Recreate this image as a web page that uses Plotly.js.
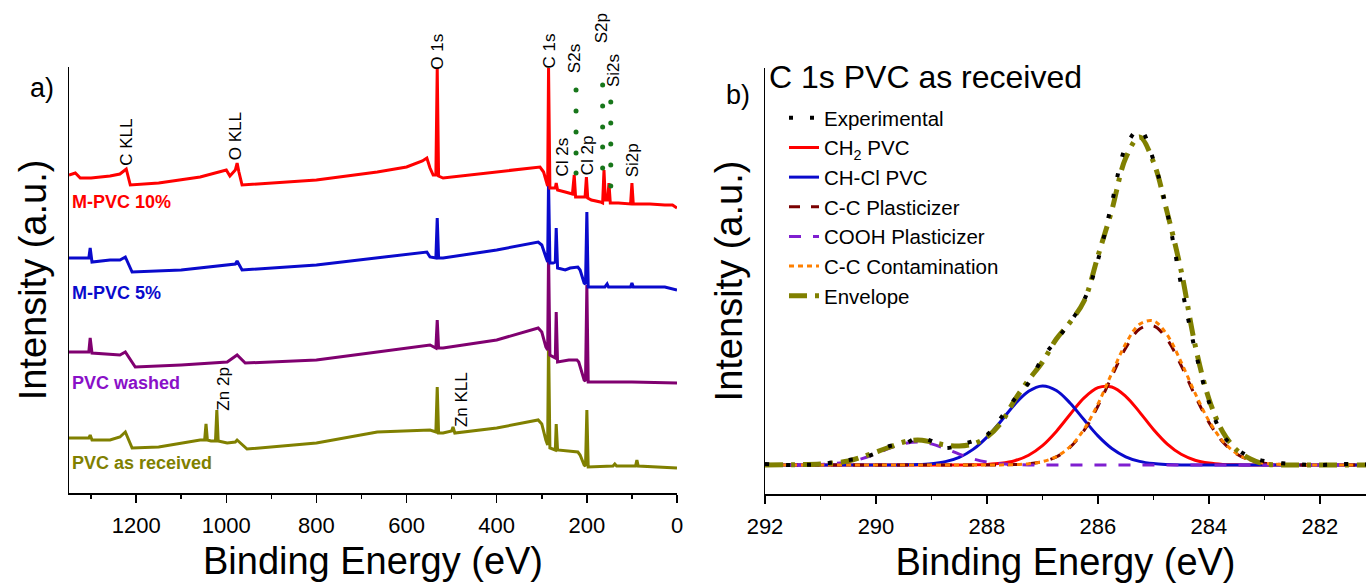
<!DOCTYPE html>
<html><head><meta charset="utf-8">
<script src="https://cdn.plot.ly/plotly-3.0.1.min.js"></script>
<style>html,body{margin:0;padding:0;background:#fff}#chart{width:1366px;height:585px}</style>
</head><body><div id="chart"></div>
<script>
// ---------- (a) survey spectra: binding energy (eV) / intensity (a.u., offset stacked) ----------
const mpvc10E = [1349,1335,1324,1300,1258,1236,1222,1213,1150,1058,1000,992,980,976,972,965,800,665,600,565,555,548,541,535,532,529,519,400,304,296,289,287,285,282,275,270,268,265,248,232,228,225,204,201,198,190,170,165,162,159,154,151,148,130,103,100,97,60,27,10,0];
const mpvc10I = [318,320,315,315,317,319,324,308,310,316,323,317,323,330,321,308,313,321,326,332,335,325,318,318,425,317,315,321,326,321,308,307,425,305,305,305,310,303,301,299,318,296,296,316,295,293,291,290,323,293,293,310,290,290,289,310,289,289,288,288,285];

const mpvc5E = [1349,1313,1305,1302,1298,1258,1236,1224,1209,1100,998,980,976,965,800,665,555,548,535,532,529,519,400,308,300,291,287,285,282,275,270,268,265,248,237,220,215,206,203,200,197,160,155,152,103,100,97,27,0];
const mpvc5I = [235,235,235,245,231,233,233,236,221,223,228,229,232,223,228,235,241,236,235,275,235,235,243,251,248,236,231,312,230,230,231,265,225,223,225,226,223,210,209,281,206,206,209,206,206,210,206,206,203];

const washedE = [1349,1313,1305,1302,1298,1236,1224,1202,1100,998,976,958,800,665,548,535,532,529,519,400,308,300,291,287,285,282,270,268,265,240,222,218,206,203,200,197,100,0];
const washedI = [141,141,141,155,140,138,141,126,128,131,138,130,133,141,148,145,173,145,145,153,165,161,146,143,240,138,135,181,131,133,133,131,113,112,208,111,111,110];

const receivedE = [1349,1313,1305,1302,1298,1258,1236,1224,1209,1150,1058,1048,1045,1042,1034,1024,1021,1018,998,980,976,954,800,665,548,535,532,529,519,500,497,493,400,308,300,291,287,285,282,270,268,265,237,220,215,206,203,200,197,142,138,134,92,89,86,27,0];
const receivedI = [55,55,55,58,53,53,56,61,45,46,53,53,69,53,52,52,83,52,50,51,53,44,50,61,63,61,106,60,60,62,66,60,65,73,69,53,48,155,45,43,69,43,42,41,38,28,27,83,26,27,29,27,27,33,27,26,25];

// dotted guide marks (S2s, S2p, Si2s)
const guideS2sE = 224,  guideS2sI = [403,382,361,340,320];
const guideS2pE = 165,  guideS2pI = [429,408,387,366,346,325];
const guideSi2sE = 147, guideSi2sI = [391,370,349,328,307];

const seriesNames = ['M-PVC 10%','M-PVC 5%','PVC washed','PVC as received'];
const peakNames = ['C KLL','O KLL','O 1s','C 1s','S2s','S2p','Si2s','Cl 2s','Cl 2p','Si2p','Zn 2p','Zn KLL'];
const peakEnergies = [1222,980,532,284,226,168,142,255,197,98,1007,479];

// ---------- (b) C 1s high-resolution fit ----------
const c1sE = [292.0,291.5,291.0,290.5,290.25,290.0,289.75,289.5,289.25,289.0,288.75,288.5,288.25,288.0,287.75,287.5,287.25,287.0,286.75,286.5,286.25,286.0,285.75,285.5,285.25,285.0,284.75,284.5,284.25,284.0,283.75,283.5,283.25,283.0,282.5,282.0,281.5,281.0];
const experimental = [1,0,1,5,7,12,19,21,27,24,17,20,24,30,47,66,82,107,125,143,165,205,262,318,336,305,252,180,115,63,30,16,8,4,1,0,1,0];
const ch2PVC = [0,0,0,0,0,0,0,0,0,0,0,0,0.2,0.6,1.7,4.3,9.8,19.4,33.6,50.7,67.1,77.4,78.0,68.7,52.9,35.5,20.9,10.7,4.8,1.9,0.6,0.2,0,0,0,0,0,0];
const chclPVC = [0,0,0,0,0,0,0,0.1,0.4,1.3,3.4,7.7,15.6,27.9,43.8,60.6,73.7,79.0,74.5,61.8,45.2,29.1,16.5,8.2,3.6,1.4,0.5,0.1,0,0,0,0,0,0,0,0,0,0];
const ccPlasticizer = [0,0,0,0,0,0,0,0,0,0,0,0,0,0,0.1,0.4,1.1,3.3,8.1,17.9,34.6,59.0,88.6,117.0,135.9,139.1,125.3,99.3,69.3,42.6,23.0,11.0,4.6,1.7,0.2,0,0,0];
const coohPlasticizer = [0,0,0.5,3.1,6.4,11.3,16.8,21.3,23.0,21.1,16.4,10.9,6.1,2.9,1.2,0.4,0.1,0,0,0,0,0,0,0,0,0,0,0,0,0,0,0,0,0,0,0,0,0];
const ccContamination = [0,0,0,0,0,0,0,0,0,0,0,0,0,0,0.1,0.4,1.2,3.4,8.4,18.5,35.8,61.1,91.8,121.2,140.8,144.1,129.8,102.8,71.8,44.1,23.8,11.4,4.8,1.8,0.2,0,0,0];
const envelope = [0,0.3,1,4,8,13,18,23,25,23,20,19,21,28,42,65,85,103,126,143,164,209,255,307,328,303,252,194,120,66,33,15,6,1,0,0,0,0];

const FONT = 'Liberation Sans, Arial, Helvetica, sans-serif';
const survey = [
  {name: seriesNames[3], x: receivedE, y: receivedI, color: '#808000'},
  {name: seriesNames[2], x: washedE, y: washedI, color: '#800070'},
  {name: seriesNames[1], x: mpvc5E, y: mpvc5I, color: '#0a0acc'},
  {name: seriesNames[0], x: mpvc10E, y: mpvc10I, color: '#ff0000'}
];
const traces = survey.map(s => ({
  type: 'scatter', mode: 'lines', x: s.x, y: s.y, name: s.name, showlegend: false,
  xaxis: 'x', yaxis: 'y', line: {color: s.color, width: 3}
}));
[[guideS2sE, guideS2sI],[guideS2pE, guideS2pI],[guideSi2sE, guideSi2sI]].forEach(g => {
  traces.push({type: 'scatter', mode: 'markers', x: g[1].map(() => g[0]), y: g[1], showlegend: false,
    xaxis: 'x', yaxis: 'y', marker: {color: '#17761a', size: 5}});
});

const fitDefs = [
  {name: 'CH<sub>2</sub> PVC', y: ch2PVC, line: {color: '#ff0000', width: 3}, rank: 2},
  {name: 'CH-Cl PVC', y: chclPVC, line: {color: '#0a0acc', width: 3}, rank: 3},
  {name: 'C-C Plasticizer', y: ccPlasticizer, line: {color: '#7a0000', width: 3, dash: '11px,11px'}, rank: 4},
  {name: 'COOH Plasticizer', y: coohPlasticizer, line: {color: '#7f1fd0', width: 3, dash: '12px,12px'}, rank: 5},
  {name: 'C-C Contamination', y: ccContamination, line: {color: '#ff8000', width: 3, dash: '5px,4px'}, rank: 6},
  {name: 'Envelope', y: envelope, line: {color: '#808000', width: 5, dash: '18px,8px,4px,8px'}, rank: 7},
  {name: 'Experimental', y: experimental, line: {color: '#000000', width: 4, dash: '4px,17px'}, rank: 1}
];
fitDefs.forEach(f => {
  const ln = Object.assign({shape: 'spline', smoothing: 1}, f.line);
  traces.push({type: 'scatter', mode: 'lines', x: c1sE, y: f.y, name: f.name, legendrank: f.rank,
    xaxis: 'x2', yaxis: 'y2', line: ln});
});

const W = 1366, H = 585;
const px = v => v / W, py = v => 1 - v / H;

// vertical pixel centres of the rotated peak labels
const labelTop = [142.5, 136, 51.5, 51.5, 59, 28, 71, 157.5, 155, 160.5, 389.5, 400];
const annotations = peakNames.map((t, i) => ({
  text: t, x: peakEnergies[i], y: py(labelTop[i]), xref: 'x', yref: 'paper', textangle: -90,
  showarrow: false, xanchor: 'center', yanchor: 'middle', font: {family: FONT, size: 17, color: '#000'}
}));
const sampleLabelY = [291, 200, 110, 30];
const sampleColors = ['#ff0000', '#0a0acc', '#8a10c8', '#808000'];
seriesNames.forEach((t, i) => annotations.push({
  text: '<b>' + t + '</b>', x: 1347, y: sampleLabelY[i], xref: 'x', yref: 'y', showarrow: false,
  xanchor: 'left', yanchor: 'middle', font: {family: FONT, size: 18, color: sampleColors[i]}
}));
annotations.push({text: 'a)', x: px(42), y: py(88), xref: 'paper', yref: 'paper', showarrow: false,
  xanchor: 'center', yanchor: 'middle', font: {family: FONT, size: 27, color: '#000'}});
annotations.push({text: 'b)', x: px(738), y: py(95), xref: 'paper', yref: 'paper', showarrow: false,
  xanchor: 'center', yanchor: 'middle', font: {family: FONT, size: 27, color: '#000'}});
annotations.push({text: 'C 1s PVC as received', x: px(767), y: py(77), xref: 'paper', yref: 'paper', showarrow: false,
  xanchor: 'left', yanchor: 'middle', font: {family: FONT, size: 32, color: '#000'}});

const axisCommon = {showline: true, linecolor: '#000', linewidth: 1.5, showgrid: false, zeroline: false,
  tickcolor: '#000', tickfont: {family: FONT, size: 22, color: '#000'}};

const layout = {
  width: W, height: H, margin: {l: 0, r: 0, t: 0, b: 0},
  paper_bgcolor: '#fff', plot_bgcolor: 'rgba(0,0,0,0)',
  font: {family: FONT, color: '#000'},
  xaxis: Object.assign({}, axisCommon, {domain: [px(69), px(677)], range: [1349, 0], anchor: 'y',
    ticks: 'outside', ticklen: 8, tickwidth: 1.5, tick0: 0, dtick: 200, ticklabelstandoff: 4,
    minor: {ticks: 'outside', ticklen: 4, tickwidth: 1.5, tickcolor: '#000', dtick: 100, tick0: 0, showgrid: false},
    title: {text: 'Binding Energy (eV)', font: {family: FONT, size: 38, color: '#000'}, standoff: 10}}),
  yaxis: Object.assign({}, axisCommon, {domain: [1 - 493 / H, 1 - 67 / H], range: [0, 426], anchor: 'x',
    ticks: '', showticklabels: false,
    title: {text: 'Intensity (a.u.)', font: {family: FONT, size: 38, color: '#000'}, standoff: 9}}),
  xaxis2: Object.assign({}, axisCommon, {domain: [px(765), 1], range: [292, 281.17], anchor: 'y2',
    ticks: 'outside', ticklen: 8, tickwidth: 1.5, tick0: 0, dtick: 2, ticklabelstandoff: 4,
    minor: {ticks: 'outside', ticklen: 4, tickwidth: 1.5, tickcolor: '#000', dtick: 1, tick0: 0, showgrid: false},
    title: {text: 'Binding Energy (eV)', font: {family: FONT, size: 38, color: '#000'}, standoff: 10}}),
  yaxis2: Object.assign({}, axisCommon, {domain: [1 - 494 / H, 1 - 68 / H], range: [-29, 397], anchor: 'x2',
    ticks: '', showticklabels: false,
    title: {text: 'Intensity (a.u.)', font: {family: FONT, size: 38, color: '#000'}, standoff: 9}}),
  showlegend: true,
  legend: {x: px(784), y: py(98), xanchor: 'left', yanchor: 'top', bgcolor: 'rgba(0,0,0,0)', borderwidth: 0,
    font: {family: FONT, size: 20.5, color: '#000'}, tracegroupgap: 0, traceorder: 'normal'},
  annotations: annotations
};

Plotly.newPlot('chart', traces, layout, {displayModeBar: false, staticPlot: true});
</script></body></html>
